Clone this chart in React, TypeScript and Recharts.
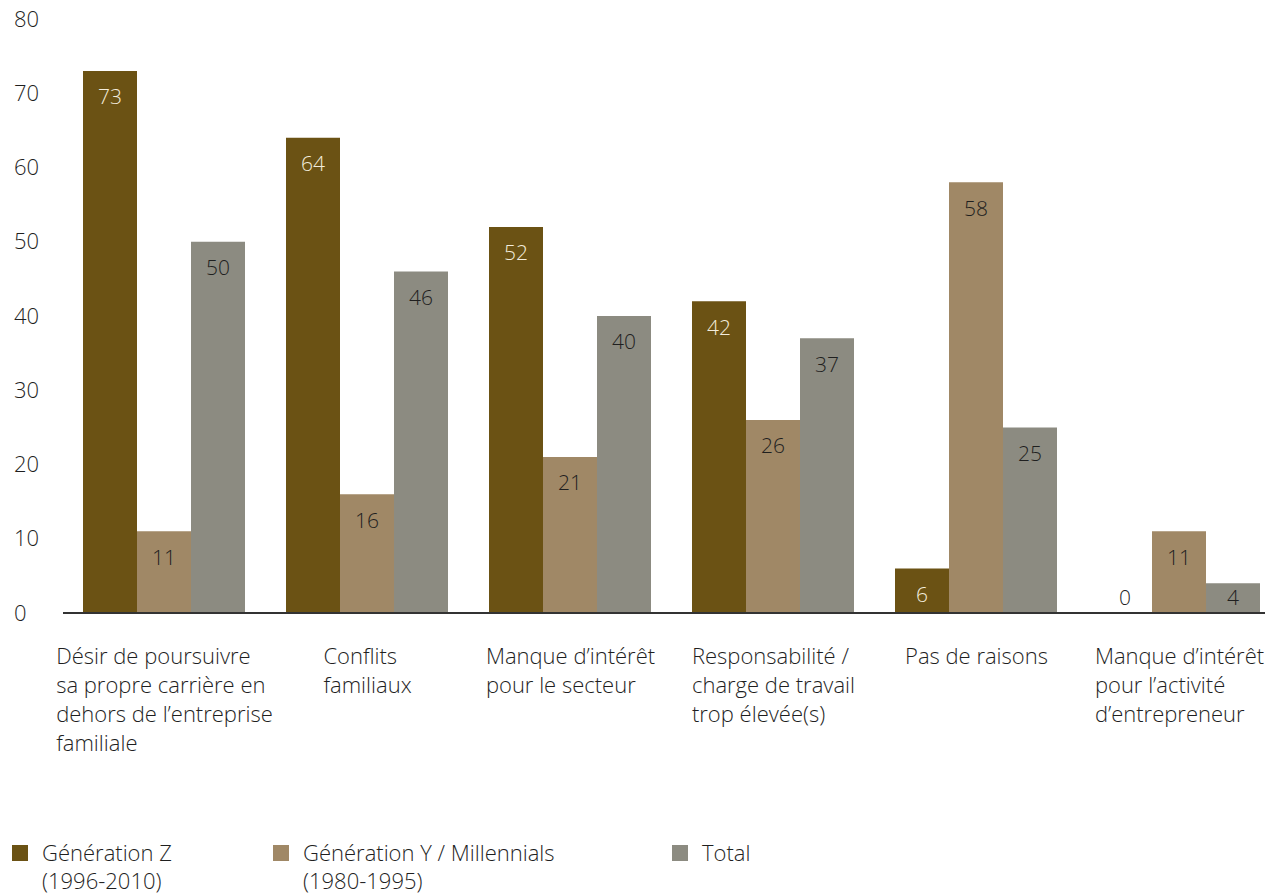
import React from 'react';
import { BarChart, Bar, XAxis, YAxis, LabelList } from 'recharts';

const categories = [
  'Désir de poursuivre sa propre carrière en dehors de l’entreprise familiale',
  'Conflits familiaux',
  'Manque d’intérêt pour le secteur',
  'Responsabilité / charge de travail trop élevée(s)',
  'Pas de raisons',
  'Manque d’intérêt pour l’activité d’entrepreneur',
];

const categoryLines = [
  ['Désir de poursuivre', 'sa propre carrière en', 'dehors de l’entreprise', 'familiale'],
  ['Conflits', 'familiaux'],
  ['Manque d’intérêt', 'pour le secteur'],
  ['Responsabilité /', 'charge de travail', 'trop élevée(s)'],
  ['Pas de raisons'],
  ['Manque d’intérêt', 'pour l’activité', 'd’entrepreneur'],
];

const genZ = [73, 64, 52, 42, 6, 0];
const genY = [11, 16, 21, 26, 58, 11];
const total = [50, 46, 40, 37, 25, 4];

const yTicks = [0, 10, 20, 30, 40, 50, 60, 70, 80];

const data = categories.map((name, i) => ({
  name,
  genZ: genZ[i],
  genY: genY[i],
  total: total[i],
}));

const FONT = "'Open Sans', sans-serif";
const WEIGHT = 300;
const TEXT = '#1f1f1f';
const C_Z = '#6b5214';
const C_Y = '#a08866';
const C_T = '#8c8b81';

let ctx: CanvasRenderingContext2D | null = null;
function measure(s: string, size: number) {
  if (!ctx) ctx = document.createElement('canvas').getContext('2d');
  if (!ctx) return s.length * size * 0.5;
  ctx.font = `${WEIGHT} ${size}px ${FONT}`;
  return ctx.measureText(s).width;
}

const XTick = (props: any) => {
  const { x, y, index } = props;
  const lines = categoryLines[index] || [];
  const w = Math.max(...lines.map((l) => measure(l, 22)));
  const left = x - w / 2;
  return (
    <g>
      {lines.map((l, i) => (
        <text
          key={i}
          x={left}
          y={y + 35 + i * 29}
          dy="0.35em"
          textAnchor="start"
          fontSize={22}
          fontWeight={WEIGHT}
          fontFamily={FONT}
          fill={TEXT}
        >
          {l}
        </text>
      ))}
    </g>
  );
};

const YTick = (props: any) => {
  const { y, payload } = props;
  return (
    <text
      x={14}
      y={y}
      dy="0.35em"
      textAnchor="start"
      fontSize={22}
      fontWeight={WEIGHT}
      fontFamily={FONT}
      fill={TEXT}
    >
      {payload.value}
    </text>
  );
};

const valueText = (cx: number, cy: number, value: any, color: string) => (
  <text
    x={cx}
    y={cy}
    dy="0.35em"
    textAnchor="middle"
    fontSize={21}
    fontWeight={WEIGHT}
    fontFamily={FONT}
    fill={color}
  >
    {value}
  </text>
);

const makeLabel = (color: string) => (props: any) => {
  const { x, y, width, height, value } = props;
  if (!value) return null;
  const cy = Math.min(y + 26, y + height - 15);
  return valueText(x + width / 2, cy, value, color);
};

// zero-height Gen Z bars get no label from Recharts, so draw them next to the Gen Y bar
const genYLabel = (props: any) => {
  const { x, y, width, height, value, index } = props;
  const cy = Math.min(y + 26, y + height - 15);
  const base = y + height;
  return (
    <g>
      {valueText(x + width / 2, cy, value, TEXT)}
      {genZ[index] === 0 ? valueText(x - width / 2, base - 15, 0, TEXT) : null}
    </g>
  );
};

const legendItems = [
  { color: C_Z, lines: ['Génération Z', '(1996-2010)'], left: 12 },
  { color: C_Y, lines: ['Génération Y / Millennials', '(1980-1995)'], left: 273 },
  { color: C_T, lines: ['Total'], left: 672 },
];

export default function App() {
  return (
    <div
      style={{
        position: 'fixed',
        left: 0,
        top: 0,
        width: 1265,
        height: 895,
        overflow: 'hidden',
        background: '#fff',
      }}
    >
      <BarChart
        width={1300}
        height={895}
        data={data}
        margin={{ top: 19, right: 19, left: 0, bottom: 132 }}
        barCategoryGap={20}
        barGap={0}
      >
        <XAxis
          dataKey="name"
          height={150}
          interval={0}
          tickLine={false}
          axisLine={{ stroke: '#333', strokeWidth: 2 }}
          tick={<XTick />}
        />
        <YAxis
          width={63}
          domain={[0, 80]}
          ticks={yTicks}
          axisLine={false}
          tickLine={false}
          tick={<YTick />}
        />
        <Bar dataKey="genZ" fill={C_Z} isAnimationActive={false}>
          <LabelList dataKey="genZ" content={makeLabel('#f3ecdc')} />
        </Bar>
        <Bar dataKey="genY" fill={C_Y} isAnimationActive={false}>
          <LabelList dataKey="genY" content={genYLabel} />
        </Bar>
        <Bar dataKey="total" fill={C_T} isAnimationActive={false}>
          <LabelList dataKey="total" content={makeLabel(TEXT)} />
        </Bar>
      </BarChart>
      {legendItems.map((it) => (
        <div
          key={it.left}
          style={{
            position: 'absolute',
            left: it.left,
            top: 838,
            display: 'flex',
            alignItems: 'flex-start',
            fontFamily: FONT,
            fontWeight: WEIGHT,
            fontSize: 22,
            color: TEXT,
            lineHeight: '28px',
          }}
        >
          <div style={{ width: 16, height: 16, background: it.color, marginTop: 7, marginRight: 14 }} />
          <div>
            {it.lines.map((l, i) => (
              <div key={i}>{l}</div>
            ))}
          </div>
        </div>
      ))}
    </div>
  );
}
